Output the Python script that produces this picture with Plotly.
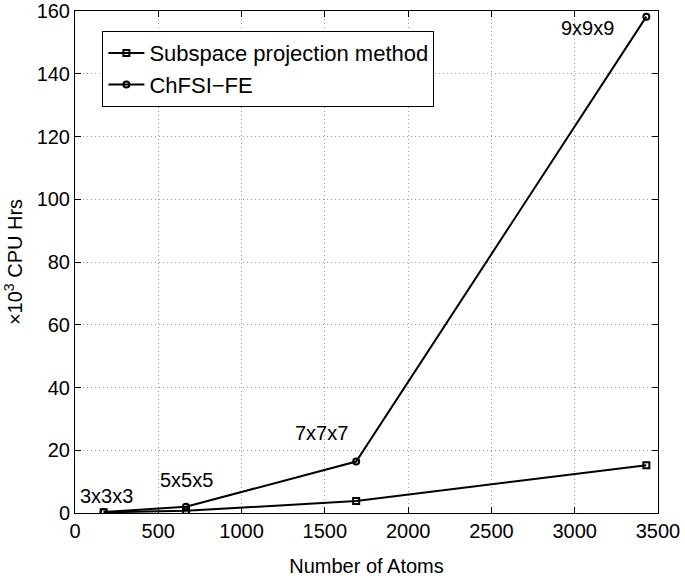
import plotly.graph_objects as go

# ---- data ----
atoms = [172, 666, 1688, 3430]
subspace = [0.2, 0.7, 3.8, 15.2]
chfsi = [0.3, 2.0, 16.4, 158.2]
sizes = ["3x3x3", "5x5x5", "7x7x7", "9x9x9"]
label_x = [192, 667, 1479, 3075]
label_y = [5.4, 10.5, 25.5, 154.6]

FONT = "Liberation Sans, Arial, sans-serif"

fig = go.Figure()
fig.add_trace(go.Scatter(x=atoms, y=subspace, mode="lines+markers", name="Subspace projection method",
                         line=dict(color="black", width=2),
                         marker=dict(symbol="square-open", size=6, color="black", line=dict(width=2))))
fig.add_trace(go.Scatter(x=atoms, y=chfsi, mode="lines+markers", name="ChFSI\u2212FE",
                         line=dict(color="black", width=2),
                         marker=dict(symbol="circle-open", size=6, color="black", line=dict(width=2))))

for s, lx, ly in zip(sizes, label_x, label_y):
    fig.add_annotation(x=lx, y=ly, text=s, showarrow=False, font=dict(size=20, color="black"))

axis_style = dict(showline=True, linecolor="black", linewidth=1, mirror="ticks",
                  ticks="inside", ticklen=6, tickcolor="black", automargin=False,
                  showgrid=True, gridcolor="#a0a0a0", griddash="1px,3px", gridwidth=1,
                  zeroline=False, tickfont=dict(size=20, color="black"),
                  ticklabeloverflow="allow")

fig.update_xaxes(range=[0, 3500], dtick=500,
                 title=dict(text="Number of Atoms", font=dict(size=20, color="black"), standoff=17),
                 **axis_style)
fig.update_yaxes(range=[0, 160], dtick=20,
                 title=dict(text="\u00d710<sup>3</sup> CPU Hrs", font=dict(size=20, color="black"), standoff=8),
                 **axis_style)

fig.update_layout(width=685, height=580, margin=dict(l=75, r=27, t=11, b=67),
                  paper_bgcolor="white", plot_bgcolor="white",
                  font=dict(family=FONT, color="black"),
                  legend=dict(x=0.047, y=0.96, xanchor="left", yanchor="top",
                              bordercolor="black", borderwidth=1, bgcolor="white",
                              font=dict(size=22, color="black"), tracegroupgap=0,
                              itemwidth=36))

# drop the default page margin so the figure sits at the window's corner
fig.write_html("out.html", config={"displayModeBar": False},
               post_script="document.body.style.margin='0';")
